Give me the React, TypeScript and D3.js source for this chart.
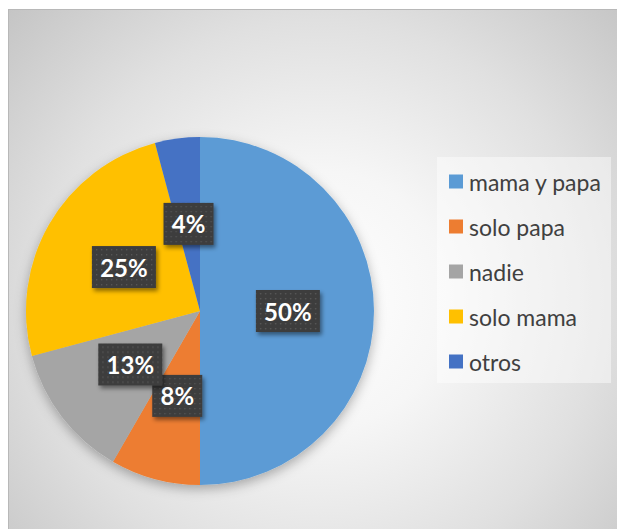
import React from "react";
import * as d3 from "d3";

const categories = ["mama y papa", "solo papa", "nadie", "solo mama", "otros"];
const counts = [12, 2, 3, 6, 1];
const colors = ["#5B9BD5", "#ED7D31", "#A5A5A5", "#FFC000", "#4472C4"];

const W = 617;
const H = 529;

export default function App() {
  const cx = 200;
  const cy = 311;
  const r = 174;
  const total = d3.sum(counts);
  const pie = d3.pie<number>().sort(null).value((d) => d)(counts);
  const arc = d3.arc<d3.PieArcDatum<number>>().innerRadius(0).outerRadius(r);
  const labelArc = d3.arc<d3.PieArcDatum<number>>().innerRadius(r * 1.01).outerRadius(0);
  const fmt = (v: number) => `${Math.round((v / total) * 100)}%`;
  const legendY = d3.scaleBand<string>().domain(categories).range([160, 385]);

  return (
    <svg
      width={W}
      height={H}
      style={{ position: "absolute", left: 0, top: 0, display: "block" }}
      fontFamily="Lato, 'Open Sans', sans-serif"
    >
      <defs>
        <radialGradient id="bg" gradientUnits="userSpaceOnUse" cx={320} cy={300} r={430}>
          <stop offset="0" stopColor="#ffffff" />
          <stop offset="0.3" stopColor="#f6f6f6" />
          <stop offset="0.65" stopColor="#e0e0e0" />
          <stop offset="1" stopColor="#c4c4c4" />
        </radialGradient>
        <pattern id="dots" width={5} height={5} patternUnits="userSpaceOnUse">
          <rect width={5} height={5} fill="#3c3c3c" />
          <rect x={2} y={2} width={1.4} height={1.4} fill="#575757" />
        </pattern>
        <filter id="pieShadow" x="-20%" y="-20%" width="140%" height="140%">
          <feDropShadow dx={0} dy={4} stdDeviation={6} floodColor="#000" floodOpacity={0.3} />
        </filter>
        <filter id="boxShadow" x="-30%" y="-30%" width="160%" height="160%">
          <feDropShadow dx={2} dy={3} stdDeviation={2} floodColor="#000" floodOpacity={0.45} />
        </filter>
      </defs>
      <rect x={0} y={0} width={W} height={H} fill="#ffffff" />
      <rect x={8.5} y={9.5} width={W} height={H} fill="url(#bg)" stroke="#b8b8b8" strokeWidth={1} />
      <g transform={`translate(${cx},${cy})`}>
        <g filter="url(#pieShadow)">
          {pie.map((p, i) => (
            <path key={i} d={arc(p) || ""} fill={colors[i]} />
          ))}
        </g>
        {pie.map((p, i) => {
          const [lx, ly] = labelArc.centroid(p);
          const text = fmt(p.value);
          const bw = 22 + 14 * text.length;
          const bh = 42;
          return (
            <g key={i} transform={`translate(${lx},${ly})`}>
              <rect
                x={-bw / 2}
                y={-bh / 2}
                width={bw}
                height={bh}
                fill="url(#dots)"
                filter="url(#boxShadow)"
              />
              <text
                textAnchor="middle"
                dominantBaseline="central"
                fill="#ffffff"
                fontWeight="bold"
                fontSize={24}
              >
                {text}
              </text>
            </g>
          );
        })}
      </g>
      <rect x={437} y={157} width={174} height={226} fill="#ffffff" fillOpacity={0.45} />
      {categories.map((c, i) => {
        const y = (legendY(c) || 0) + legendY.bandwidth() / 2 - 1;
        return (
          <g key={c}>
            <rect x={449} y={y - 7} width={14} height={14} fill={colors[i]} />
            <text x={469} y={y} dominantBaseline="central" fontSize={23} fill="#404040">
              {c}
            </text>
          </g>
        );
      })}
    </svg>
  );
}
